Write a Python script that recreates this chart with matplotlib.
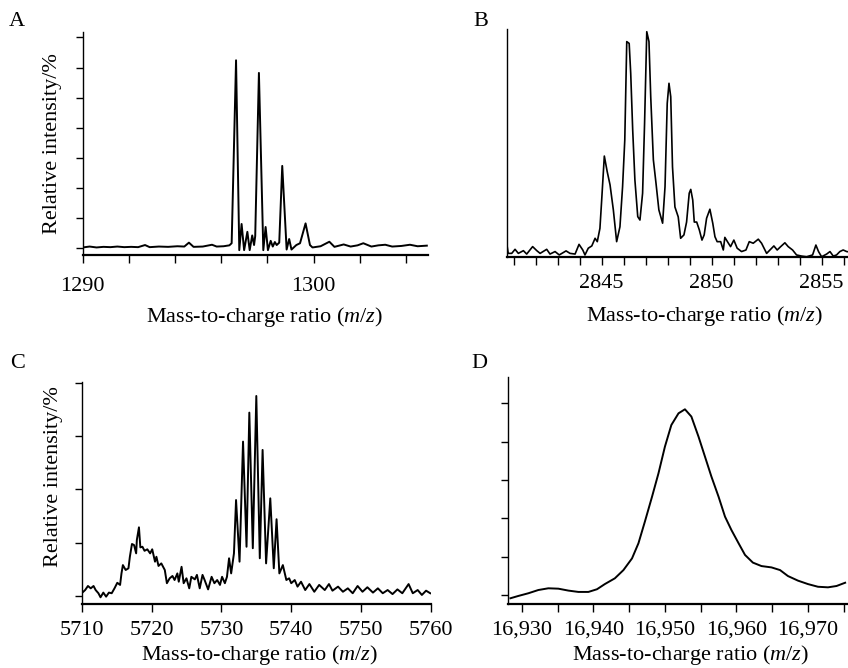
import numpy as np
import matplotlib.pyplot as plt
from matplotlib.ticker import StrMethodFormatter

plt.rcParams['font.family'] = ['Liberation Serif', 'DejaVu Serif']
plt.rcParams['mathtext.fontset'] = 'custom'
plt.rcParams['mathtext.rm'] = 'Liberation Serif'
plt.rcParams['mathtext.it'] = 'Liberation Serif:italic'

# panel A, ~1297 m/z
mz_a = [1290.0, 1290.3, 1290.6, 1290.9, 1291.2, 1291.5, 1291.8, 1292.1, 1292.4, 1292.7,
        1292.9, 1293.3, 1293.7, 1294.1, 1294.4, 1294.6, 1294.8, 1295.2, 1295.6, 1295.8,
        1296.1, 1296.35, 1296.45, 1296.64, 1296.78, 1296.88, 1296.99, 1297.13, 1297.23, 1297.34,
        1297.42, 1297.47, 1297.63, 1297.82, 1297.92, 1298.02, 1298.14, 1298.23, 1298.32, 1298.40,
        1298.51, 1298.64, 1298.83, 1298.94, 1299.04, 1299.25, 1299.41, 1299.65, 1299.84, 1299.95,
        1300.3, 1300.68, 1300.9, 1301.3, 1301.6, 1301.9, 1302.15, 1302.5, 1302.8, 1303.1,
        1303.4, 1303.8, 1304.17, 1304.5, 1304.9]
int_a = [0.2, 0.5, 0.2, 0.4, 0.3, 0.5, 0.3, 0.4, 0.3, 1.0,
         0.3, 0.5, 0.4, 0.6, 0.5, 1.8, 0.4, 0.5, 1.1, 0.5,
         0.6, 0.9, 1.6, 62.4, -0.7, 8.0, -0.7, 5.4, -0.7, 4.2,
         1.0, 4.0, 58.2, -0.7, 7.0, -0.7, 2.4, 0.5, 2.0, 1.0,
         1.8, 27.3, -0.5, 3.0, -0.5, 1.0, 1.6, 8.2, 1.0, 0.2,
         0.6, 2.1, 0.4, 1.2, 0.5, 0.9, 1.6, 0.5, 0.9, 1.1,
         0.5, 0.7, 1.1, 0.6, 0.8]
ticks_a = [1290, 1292, 1294, 1296, 1298, 1300, 1302, 1304]
labels_a = ['1290', '', '', '', '', '1300', '', '']

# panel B, ~2847 m/z
mz_b = [2840.68, 2840.75, 2840.91, 2841.06, 2841.21, 2841.44, 2841.59, 2841.86, 2842.05, 2842.20,
        2842.50, 2842.65, 2842.88, 2843.07, 2843.38, 2843.56, 2843.79, 2843.97, 2844.14, 2844.24,
        2844.39, 2844.55, 2844.70, 2844.80, 2844.92, 2845.00, 2845.12, 2845.25, 2845.38, 2845.53,
        2845.68, 2845.83, 2845.95, 2846.05, 2846.14, 2846.25, 2846.32, 2846.41, 2846.51, 2846.64,
        2846.74, 2846.86, 2846.95, 2847.05, 2847.15, 2847.23, 2847.35, 2847.47, 2847.60, 2847.77,
        2847.88, 2847.98, 2848.06, 2848.14, 2848.22, 2848.33, 2848.48, 2848.59, 2848.74, 2848.86,
        2848.98, 2849.05, 2849.14, 2849.21, 2849.32, 2849.44, 2849.56, 2849.66, 2849.77, 2849.92,
        2850.05, 2850.15, 2850.25, 2850.41, 2850.53, 2850.60, 2850.75, 2850.86, 2851.01, 2851.16,
        2851.36, 2851.56, 2851.71, 2851.89, 2852.12, 2852.27, 2852.50, 2852.65, 2852.83, 2852.98,
        2853.14, 2853.33, 2853.48, 2853.68, 2853.86, 2854.09, 2854.32, 2854.59, 2854.74, 2854.86,
        2855.00, 2855.23, 2855.38, 2855.53, 2855.68, 2855.83, 2855.98, 2856.14, 2856.30]
int_b = [6.1, 1.6, 1.6, 3.4, 1.6, 2.8, 1.3, 4.6, 2.8, 1.6,
         3.4, 1.3, 2.4, 0.9, 2.7, 1.6, 1.3, 5.6, 3.1, 0.9,
         3.9, 4.9, 8.3, 6.8, 12.7, 25.3, 44.8, 37.9, 32.0, 20.9,
         6.8, 13.4, 31.2, 51.9, 95.6, 94.8, 81.5, 56.4, 34.2, 17.9,
         16.4, 28.3, 59.3, 100.0, 95.6, 71.1, 43.1, 32.7, 20.9, 15.0,
         31.2, 68.2, 77.1, 71.1, 40.0, 22.2, 17.8, 8.3, 9.8, 15.5,
         28.3, 30.0, 25.3, 15.5, 15.5, 12.0, 7.5, 9.8, 17.2, 21.2,
         15.0, 9.0, 6.8, 6.8, 3.1, 8.7, 6.3, 4.6, 7.5, 3.9,
         2.4, 3.1, 6.8, 6.1, 7.9, 6.1, 1.6, 3.1, 4.9, 3.1,
         4.6, 6.3, 4.6, 3.1, 0.9, 0.4, 0.1, 0.9, 5.3, 2.4,
         0.1, 1.3, 2.4, 0.4, 0.9, 2.4, 3.1, 2.4, 2.2]
ticks_b = list(range(2841, 2857))
labels_b = ['2845' if t == 2845 else '2850' if t == 2850 else '2855' if t == 2855 else ''
            for t in ticks_b]

# panel C, ~5735 m/z
mz_c = [5710.0, 5710.5, 5710.9, 5711.3, 5711.7, 5712.0, 5712.4, 5712.7, 5713.1, 5713.5,
        5713.9, 5714.3, 5714.7, 5715.1, 5715.5, 5715.7, 5715.9, 5716.3, 5716.7, 5716.9,
        5717.2, 5717.5, 5717.8, 5717.9, 5718.2, 5718.4, 5718.7, 5719.0, 5719.4, 5719.8,
        5720.1, 5720.5, 5720.7, 5721.0, 5721.4, 5721.9, 5722.2, 5722.6, 5723.0, 5723.3,
        5723.7, 5723.9, 5724.3, 5724.6, 5725.0, 5725.4, 5725.7, 5726.2, 5726.5, 5726.9,
        5727.3, 5727.6, 5728.1, 5728.6, 5729.0, 5729.4, 5729.8, 5730.1, 5730.5, 5730.8,
        5731.1, 5731.4, 5731.8, 5732.1, 5732.6, 5733.1, 5733.6, 5734.0, 5734.5, 5735.0,
        5735.5, 5735.9, 5736.4, 5737.0, 5737.5, 5737.9, 5738.3, 5738.8, 5739.3, 5739.7,
        5740.0, 5740.5, 5740.9, 5741.4, 5742.0, 5742.6, 5743.3, 5744.0, 5744.8, 5745.4,
        5745.9, 5746.7, 5747.4, 5748.1, 5748.8, 5749.5, 5750.2, 5750.9, 5751.7, 5752.4,
        5753.1, 5753.8, 5754.5, 5755.2, 5755.9, 5756.8, 5757.4, 5758.1, 5758.7, 5759.3,
        5759.9]
int_c = [1.3, 2.8, 4.7, 3.6, 4.7, 2.8, 1.3, -0.6, 1.6, -0.3,
         1.6, 1.3, 3.6, 6.2, 5.2, 10.6, 14.5, 12.2, 13.0, 18.4,
         24.4, 23.9, 20.0, 26.3, 32.2, 22.8, 23.1, 21.2, 21.9, 20.0,
         21.9, 16.1, 18.4, 14.1, 15.3, 12.2, 6.0, 8.3, 9.4, 7.5,
         10.6, 6.7, 13.7, 6.0, 8.3, 3.6, 9.0, 7.8, 9.9, 3.6,
         9.9, 7.5, 3.1, 9.0, 6.0, 7.5, 5.2, 9.0, 6.0, 9.0,
         17.7, 10.6, 20.0, 45.0, 16.1, 72.4, 23.1, 86.0, 22.4, 93.8,
         17.7, 68.5, 15.3, 45.8, 13.0, 36.0, 10.6, 14.5, 7.5, 8.3,
         6.0, 7.5, 4.4, 6.7, 2.8, 5.6, 2.0, 5.2, 2.8, 5.6,
         2.5, 4.4, 2.0, 3.6, 1.3, 4.7, 2.0, 4.1, 1.6, 3.6,
         1.3, 2.8, 0.9, 3.1, 1.3, 5.6, 1.3, 2.8, 0.5, 2.5,
         1.3]
ticks_c = [5710, 5720, 5730, 5740, 5750, 5760]

# panel D, ~16,952 m/z
mz_d = [16928.4, 16929.5, 16930.9, 16932.3, 16933.7, 16935.1, 16936.5, 16937.9, 16939.3, 16940.5,
        16941.6, 16943.0, 16944.2, 16945.4, 16946.3, 16947.2, 16948.2, 16949.1, 16950.0, 16950.9,
        16951.9, 16952.8, 16953.7, 16954.7, 16955.6, 16956.5, 16957.5, 16958.4, 16959.3, 16960.3,
        16961.2, 16962.3, 16963.5, 16964.9, 16966.1, 16967.2, 16968.6, 16970.0, 16971.4, 16972.8,
        16974.0, 16975.2]
int_d = [-1.7, -0.5, 0.9, 2.6, 3.5, 3.3, 2.3, 1.6, 1.6, 3.0,
         5.7, 8.7, 13.0, 19.1, 27.0, 38.3, 51.3, 63.5, 77.4, 88.7,
         94.8, 96.9, 93.1, 82.6, 72.2, 61.8, 51.3, 40.9, 33.9, 27.0,
         20.9, 16.9, 15.1, 14.4, 13.0, 9.9, 7.5, 5.7, 4.3, 4.0,
         4.7, 6.4]
ticks_d = [16930, 16940, 16950, 16960, 16970]

FS = 16
xlabel = 'Mass-to-charge ratio ($m/z$)'


def style(ax, xpad):
    for s in ['top', 'right']:
        ax.spines[s].set_visible(False)
    ax.spines['bottom'].set_linewidth(1.6)
    ax.spines['left'].set_linewidth(1.0)
    ax.tick_params(direction='out', length=6, width=1.0, labelsize=FS, pad=xpad)
    ax.tick_params(axis='y', length=5, labelleft=False)
    ax.tick_params(which='minor', direction='out', length=6, width=1.0)


fig = plt.figure(figsize=(8.48, 6.68), dpi=100)

# A
ax = fig.add_axes([0.0975, 0.6183, 0.4072, 0.3338])
ax.plot(mz_a, int_a, color='black', lw=1.4)
ax.set_xlim(1290, 1304.95)
ax.set_ylim(-2.3, 71.8)
ax.set_xticks(ticks_a, labels_a)
ax.set_yticks(range(0, 71, 10))
style(ax, 10)
ax.set_xlabel(xlabel, fontsize=FS)
ax.xaxis.label.set_va('center')
ax.xaxis.set_label_coords(0.528, -0.278)
ax.set_ylabel('Relative intensity/%', fontsize=FS)
ax.yaxis.label.set_va('center')
ax.yaxis.set_label_coords(-0.086, 0.5)

# B
ax = fig.add_axes([0.5975, 0.6153, 0.4025, 0.3413])
ax.plot(mz_b, int_b, color='black', lw=1.2)
ax.set_xlim(2840.68, 2856.2)
ax.set_ylim(0, 101.2)
ax.set_xticks(ticks_b, labels_b)
ax.set_yticks([])
style(ax, 6)
ax.set_xlabel(xlabel, fontsize=FS)
ax.xaxis.label.set_va('center')
ax.xaxis.set_label_coords(0.581, -0.26)

# C
ax = fig.add_axes([0.0963, 0.0958, 0.4119, 0.3328])
ax.plot(mz_c, int_c, color='black', lw=1.4)
ax.set_xlim(5710, 5760)
ax.set_ylim(-3.75, 100.5)
ax.set_xticks(ticks_c)
ax.set_yticks([0, 25, 50, 75, 100])
style(ax, 6)
ax.set_xlabel(xlabel, fontsize=FS)
ax.xaxis.label.set_va('center')
ax.xaxis.set_label_coords(0.51, -0.229)
ax.set_ylabel('Relative intensity/%', fontsize=FS)
ax.yaxis.label.set_va('center')
ax.yaxis.set_label_coords(-0.082, 0.574)

# D
ax = fig.add_axes([0.5994, 0.0958, 0.4006, 0.3394])
ax.plot(mz_d, int_d, color='black', lw=1.4)
ax.set_xlim(16928.1, 16975.6)
ax.set_ylim(-4.7, 113.6)
ax.set_xticks(ticks_d)
ax.set_xticks([16935, 16945, 16955, 16965, 16975], minor=True)
ax.xaxis.set_major_formatter(StrMethodFormatter('{x:,.0f}'))
ax.set_yticks(range(0, 101, 20))
style(ax, 6)
ax.set_xlabel(xlabel, fontsize=FS)
ax.xaxis.label.set_va('center')
ax.xaxis.set_label_coords(0.536, -0.225)

# panel letters
for letter, x, y in [('A', 17, 22), ('B', 481, 22), ('C', 18, 363), ('D', 479, 363)]:
    fig.text(x / 848, 1 - y / 668, letter, ha='center', va='center', fontsize=FS)

fig.savefig('out.png', dpi=100)
